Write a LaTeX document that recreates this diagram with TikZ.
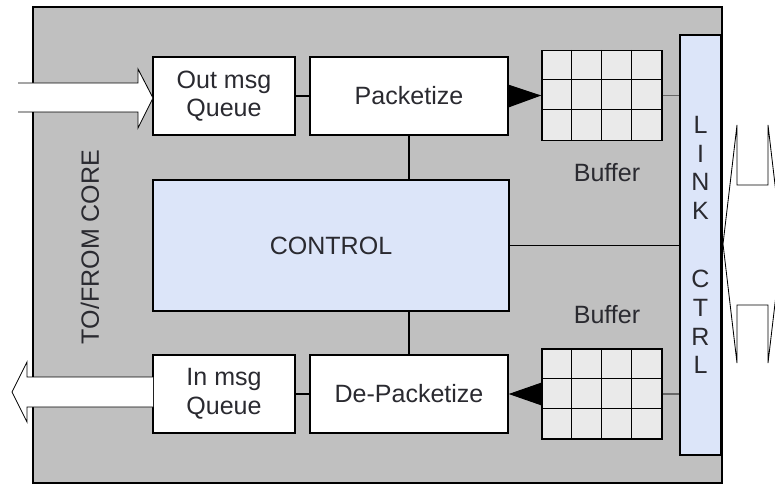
\documentclass[tikz,border=0pt]{standalone}
\usepackage{fontspec}
\setmainfont{Liberation Sans}
\usetikzlibrary{arrows.meta}
\tikzset{>=stealth}
\definecolor{coregray}{RGB}{192,192,192}
\definecolor{ctrlblue}{RGB}{220,229,249}
\definecolor{cellgray}{RGB}{234,234,234}
\definecolor{inkgray}{RGB}{42,42,48}
\tikzset{
  blk/.style={draw, line width=0.9pt, fill=white, text=inkgray, align=center,
    inner sep=0pt, font=\fontsize{17.8}{20.4}\selectfont},
  ctrlblk/.style={blk, fill=ctrlblue},
  bufblk/.style={draw, line width=1pt, fill=cellgray, inner sep=0pt,
    minimum width=3cm, minimum height=2.25cm},
  lbl/.style={text=inkgray, inner sep=0pt, font=\fontsize{17.8}{20.4}\selectfont},
  wire/.style={line width=0.8pt},
  cell/.style={line width=1pt},
  push/.style={-{Triangle[length=24pt,width=16.5pt]}, line width=0.8pt},
  fatarrow/.style={line width=0.6pt}
}

\begin{document}
\begin{tikzpicture}[x=0.025cm, y=-0.025cm]
  \clip (0,0) rectangle (775,485);

  % core
  \fill[coregray] (33,7) rectangle (722,483);
  \draw[line width=0.9pt] (33,7) rectangle (722,483);

  \node[blk, minimum width=3.55cm, minimum height=1.95cm] (outq) at (224,96) {Out msg\\Queue};
  \node[blk, minimum width=4.95cm, minimum height=1.95cm] (pack) at (409,96) {Packetize};
  \node[ctrlblk, minimum width=8.9cm, minimum height=3.275cm] (ctrl) at (331,245.5) {CONTROL};
  \node[blk, minimum width=3.55cm, minimum height=1.95cm] (inq) at (224,394) {In msg\\Queue};
  \node[blk, minimum width=4.95cm, minimum height=1.95cm] (depack) at (409,394) {De-Packetize};

  \node[bufblk] (bufout) at (602,95.5) {};
  \node[bufblk] (bufin) at (602,394) {};
  \node[lbl] (bufoutlbl) at (607,173) {Buffer};
  \node[lbl] (bufinlbl) at (607,315) {Buffer};

  \node[ctrlblk, minimum width=1.025cm, minimum height=10.5cm] (link) at (700.5,245)
    {L\\I\\N\\K\\[28pt]C\\T\\R\\L};
  \node[lbl, rotate=90] (core) at (90,247) {TO/FROM CORE};

  % buffer cells
  \draw[cell] (bufout.north west) ++(30,0) -- ++(0,90);
  \draw[cell] (bufout.north west) ++(60,0) -- ++(0,90);
  \draw[cell] (bufout.north west) ++(90,0) -- ++(0,90);
  \draw[cell] (bufout.north west) ++(0,30) -- ++(120,0);
  \draw[cell] (bufout.north west) ++(0,60) -- ++(120,0);
  \draw[cell] (bufin.north west) ++(30,0) -- ++(0,90);
  \draw[cell] (bufin.north west) ++(60,0) -- ++(0,90);
  \draw[cell] (bufin.north west) ++(90,0) -- ++(0,90);
  \draw[cell] (bufin.north west) ++(0,30) -- ++(120,0);
  \draw[cell] (bufin.north west) ++(0,60) -- ++(120,0);

  % wires
  \draw[wire] (outq) -- (pack);
  \draw[wire] (inq) -- (depack);
  \draw[wire] (pack.south) -- (pack.south |- ctrl.north);
  \draw[wire] (depack.north) -- (depack.north |- ctrl.south);
  \draw[wire] (ctrl.east) -- (ctrl.east -| link.west);
  \draw[wire, black!60] (bufout.east) -- (bufout.east -| link.west);
  \draw[wire, black!60] (bufin.east) -- (bufin.east -| link.west);
  \draw[push] (pack.east) -- (bufout.west);
  \draw[push] (bufin.west) -- (depack.east);

  % to/from core
  \fill[white] (0,83) -- (138,83) -- (138,69) -- (153,98) -- (138,128) -- (138,112) -- (0,112) -- cycle;
  \draw[fatarrow] (18,83) -- (138,83) -- (138,69) -- (153,98) -- (138,128) -- (138,112) -- (18,112);
  \fill[white] (153,377) -- (27,377) -- (27,362) -- (12,392) -- (27,422) -- (27,407) -- (153,407) -- cycle;
  \draw[fatarrow] (153,377) -- (27,377) -- (27,362) -- (12,392) -- (27,422) -- (27,407) -- (153,407);

  % link
  \draw[fatarrow] (723,244) -- (737,125) -- (737,185) -- (768,185) -- (768,125) -- (782,244)
    -- (768,363) -- (768,305) -- (737,305) -- (737,363) -- cycle;
\end{tikzpicture}
\end{document}
